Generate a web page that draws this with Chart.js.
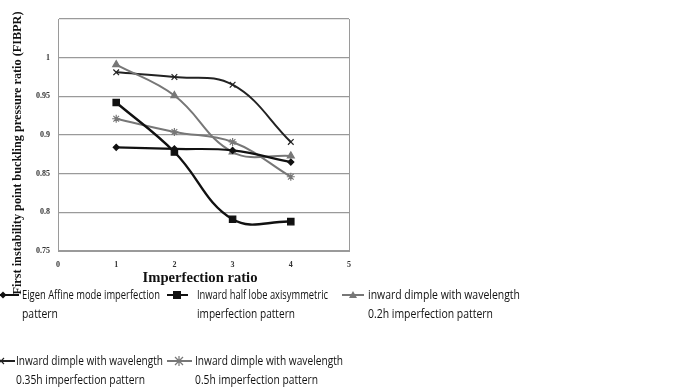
<!DOCTYPE html>
<html>
<head>
<meta charset="utf-8">
<script src="https://cdn.jsdelivr.net/npm/chart.js@4"></script>
<style>
  html, body { margin: 0; padding: 0; background: #fff; }
  body { width: 674px; height: 391px; position: relative; overflow: hidden; }
  #chart { position: absolute; left: 0; top: 0; }
  #overlay { position: absolute; left: 0; top: 0; }
</style>
</head>
<body>
<canvas id="chart" width="360" height="275"></canvas>
<svg id="overlay" width="674" height="391"></svg>
<script>
// --- Dados ---
const imperfectionRatio = [1, 2, 3, 4];
const eigenAffine = [0.884, 0.882, 0.880, 0.865];
const halfLobe = [0.942, 0.878, 0.791, 0.788];
const dimple02h = [0.991, 0.951, 0.878, 0.873];
const dimple035h = [0.981, 0.975, 0.965, 0.891];
const dimple05h = [0.921, 0.904, 0.891, 0.846];

const seriesNames = [
    ['Eigen Affine mode imperfection', 'pattern'],
    ['Inward half lobe axisymmetric', 'imperfection pattern'],
    ['inward dimple with wavelength', '0.2h imperfection pattern'],
    ['Inward dimple with wavelength', '0.35h imperfection pattern'],
    ['Inward dimple with wavelength', '0.5h imperfection pattern']
];
const xTicks = [0, 1, 2, 3, 4, 5];
const yTicks = [0.75, 0.8, 0.85, 0.9, 0.95, 1, 1.05];
const xTitle = 'Imperfection ratio';
const yTitle = 'First instability point buckling pressure ratio (FIBPR)';

// --- Estilos das séries ---
const styles = [
    { color: '#111', width: 2.2, point: 'rectRot', radius: 3 },
    { color: '#111', width: 2.4, point: 'rect', radius: 4.5 },
    { color: '#777', width: 2, point: 'triangle', radius: 4 },
    { color: '#222', width: 2, point: 'crossRot', radius: 4 },
    { color: '#777', width: 2, point: 'star', radius: 4 }
];
const allSeries = [eigenAffine, halfLobe, dimple02h, dimple035h, dimple05h];

const datasets = allSeries.map((vals, i) => ({
    label: seriesNames[i].join(' '),
    data: vals.map((v, j) => ({ x: imperfectionRatio[j], y: v })),
    borderColor: styles[i].color,
    backgroundColor: styles[i].color,
    borderWidth: styles[i].width,
    pointStyle: styles[i].point,
    pointRadius: styles[i].radius,
    pointBorderWidth: 1.2,
    tension: 0.4,
    fill: false
}));

const gridColor = '#9a9a9a';
const tickFont = { family: 'Liberation Serif', size: 8, weight: 'bold' };

new Chart(document.getElementById('chart'), {
    type: 'line',
    data: { datasets },
    options: {
        responsive: false,
        animation: false,
        layout: { padding: { top: 19, right: 11, left: 0, bottom: 0 } },
        plugins: { legend: { display: false }, tooltip: { enabled: false } },
        scales: {
            x: {
                type: 'linear', min: 0, max: 5,
                afterBuildTicks: (s) => { s.ticks = xTicks.map(v => ({ value: v })); },
                afterFit: (s) => { s.height = 24; },
                grid: {
                    drawTicks: false,
                    color: (c) => (c.tick && c.tick.value === 5 ? gridColor : 'rgba(0,0,0,0)')
                },
                border: { display: true, color: gridColor, width: 1 },
                ticks: { padding: 9, color: '#333', font: tickFont, maxRotation: 0 }
            },
            y: {
                min: 0.75, max: 1.05,
                afterBuildTicks: (s) => { s.ticks = yTicks.map(v => ({ value: v })); },
                afterFit: (s) => { s.width = 58; },
                grid: { drawTicks: false, color: gridColor, lineWidth: 1.3 },
                border: { display: true, color: gridColor, width: 1 },
                ticks: {
                    padding: 8, color: '#333', font: tickFont,
                    callback: (v) => (v > 1.01 ? '' : String(Number(v.toFixed(2))))
                }
            }
        }
    }
});

// --- Títulos e legenda (SVG) ---
const NS = 'http://www.w3.org/2000/svg';
const svg = document.getElementById('overlay');

function el(tag, attrs, text) {
    const e = document.createElementNS(NS, tag);
    for (const k in attrs) e.setAttribute(k, attrs[k]);
    if (text) e.textContent = text;
    svg.appendChild(e);
    return e;
}

el('text', { x: 200, y: 282, 'text-anchor': 'middle', 'font-family': 'Liberation Serif',
    'font-weight': 'bold', 'font-size': 14, fill: '#111', textLength: 115,
    lengthAdjust: 'spacingAndGlyphs' }, xTitle);
el('text', { transform: 'translate(21,153) rotate(-90)', 'text-anchor': 'middle',
    'font-family': 'Liberation Serif', 'font-weight': 'bold', 'font-size': 11.5, fill: '#111',
    textLength: 283, lengthAdjust: 'spacingAndGlyphs' }, yTitle);

// posição de cada item da legenda: linha (x0,x1), marcador, texto
const legendItems = [
    { x0: 0, x1: 19, mx: 3, y: 295, tx: 22, len: [138, 36] },
    { x0: 167, x1: 188, mx: 177, y: 295, tx: 197, len: [131, 98] },
    { x0: 342, x1: 364, mx: 353, y: 295, tx: 368, len: [152, 125] },
    { x0: 0, x1: 15, mx: 1, y: 361, tx: 16, len: [147, 129] },
    { x0: 167, x1: 192, mx: 179, y: 361, tx: 195, len: [148, 123] }
];

function marker(kind, x, y, color) {
    if (kind === 'rectRot') {
        el('path', { d: `M${x} ${y - 3.5} L${x + 3.5} ${y} L${x} ${y + 3.5} L${x - 3.5} ${y} Z`, fill: color });
    } else if (kind === 'rect') {
        el('rect', { x: x - 4, y: y - 4, width: 8, height: 8, fill: color });
    } else if (kind === 'triangle') {
        el('path', { d: `M${x} ${y - 4} L${x + 4} ${y + 3} L${x - 4} ${y + 3} Z`, fill: color });
    } else if (kind === 'crossRot') {
        el('path', { d: `M${x - 3} ${y - 3} L${x + 3} ${y + 3} M${x - 3} ${y + 3} L${x + 3} ${y - 3}`, stroke: color, 'stroke-width': 1.2 });
    } else if (kind === 'star') {
        el('path', { d: `M${x - 4} ${y - 4} L${x + 4} ${y + 4} M${x - 4} ${y + 4} L${x + 4} ${y - 4} M${x} ${y - 5} L${x} ${y + 5}`, stroke: color, 'stroke-width': 1.2 });
    }
}

legendItems.forEach((it, i) => {
    const st = styles[i];
    el('line', { x1: it.x0, y1: it.y, x2: it.x1, y2: it.y, stroke: st.color, 'stroke-width': 2 });
    marker(st.point, it.mx, it.y, st.color);
    seriesNames[i].forEach((line, k) => {
        el('text', { x: it.tx, y: it.y + 4 + k * 18.5, 'font-family': 'Open Sans', 'font-size': 12,
            fill: '#111', textLength: it.len[k], lengthAdjust: 'spacingAndGlyphs' }, line);
    });
});
</script>
</body>
</html>
